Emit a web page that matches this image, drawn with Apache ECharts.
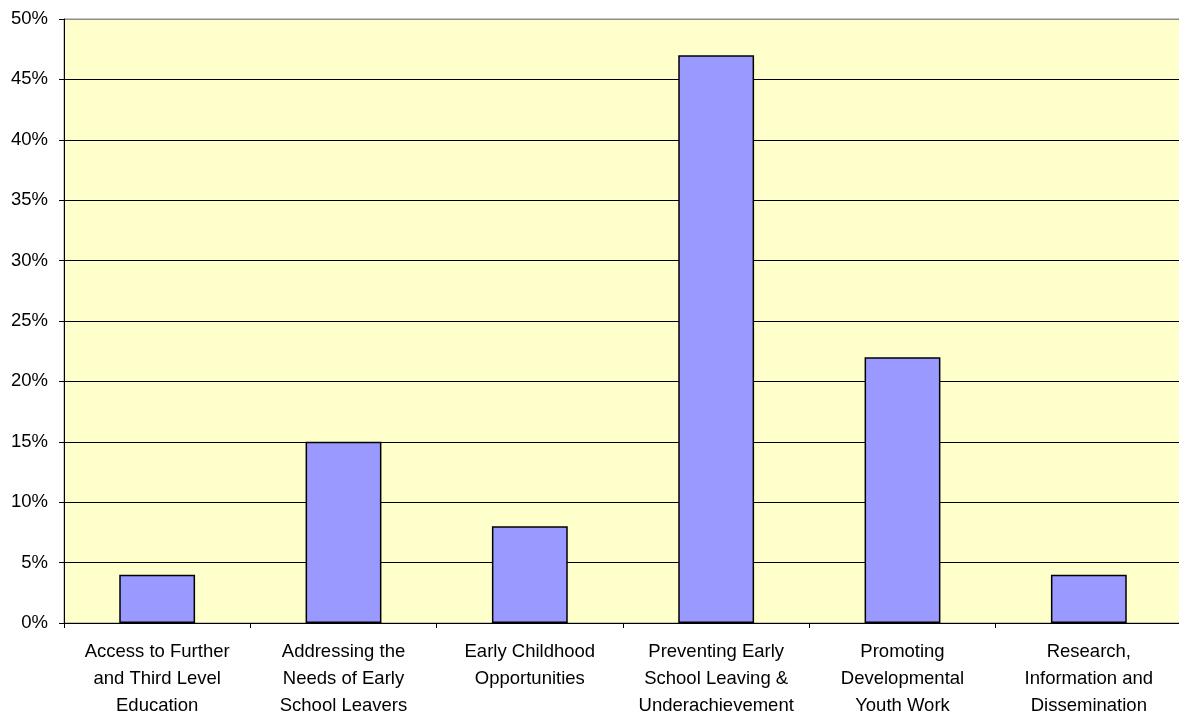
<!DOCTYPE html>
<html>
<head>
<meta charset="utf-8">
<script src="https://cdn.jsdelivr.net/npm/echarts@6/dist/echarts.min.js"></script>
<style>
  html, body { margin: 0; padding: 0; background: #fff; }
  #chart { width: 1179px; height: 717px; }
</style>
</head>
<body>
<div id="chart"></div>
<script>
// Programme areas (line breaks as shown under the axis)
const categories = [
  "Access to Further\nand Third Level\nEducation",
  "Addressing the\nNeeds of Early\nSchool Leavers",
  "Early Childhood\nOpportunities",
  "Preventing Early\nSchool Leaving &\nUnderachievement",
  "Promoting\nDevelopmental\nYouth Work",
  "Research,\nInformation and\nDissemination"
];
// Share of funding, percent
const shares = [4, 15, 8, 47, 22, 4];

// Gridlines are black, the top edge of the plot is grey
const gridColors = ['#000', '#000', '#000', '#000', '#000', '#000', '#000', '#000', '#000', '#000', '#8c8c8c'];

const chart = echarts.init(document.getElementById('chart'));
chart.setOption({
  animation: false,
  textStyle: { fontFamily: 'Liberation Sans, Arial, sans-serif' },
  grid: {
    left: 64, right: -3, top: 19, bottom: 94,
    outerBoundsMode: 'none',
    containLabel: false,
    show: true,
    backgroundColor: '#FFFFCC',
    borderColor: '#8c8c8c',
    borderWidth: 1
  },
  xAxis: {
    type: 'category',
    data: categories,
    axisLine: { lineStyle: { color: '#000', width: 1 } },
    axisTick: { show: true, length: 5, alignWithLabel: false, lineStyle: { color: '#000' } },
    axisLabel: {
      interval: 0,
      color: '#000',
      fontSize: 18.5,
      lineHeight: 27,
      margin: 15
    }
  },
  yAxis: {
    type: 'value',
    min: 0, max: 50, interval: 5,
    axisLine: { show: true, lineStyle: { color: '#000', width: 1 } },
    axisTick: { show: true, length: 5, lineStyle: { color: '#000' } },
    splitLine: { show: true, lineStyle: { color: gridColors, width: 1 } },
    axisLabel: {
      color: '#000',
      fontSize: 18.5,
      margin: 16,
      formatter: v => v + '%'
    }
  },
  series: [{
    type: 'bar',
    data: shares,
    barWidth: '40.7%',
    itemStyle: { color: '#9999FF', borderColor: '#000', borderWidth: 1.5 }
  }]
});
</script>
</body>
</html>
